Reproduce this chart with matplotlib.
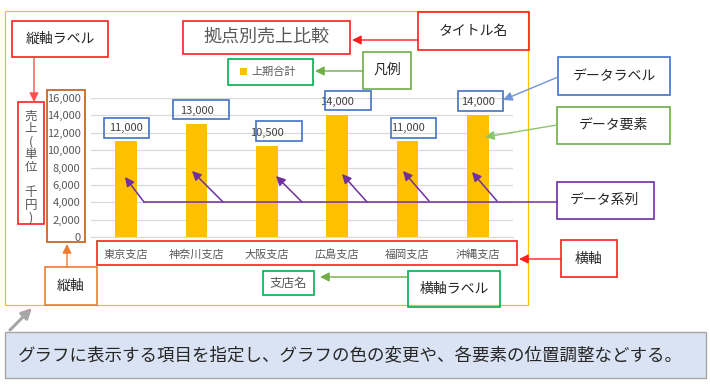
import matplotlib
matplotlib.use("Agg")
import matplotlib.pyplot as plt
from matplotlib.patches import Rectangle
from matplotlib.ticker import FuncFormatter

plt.rcParams['font.family'] = ['Noto Sans CJK JP', 'DejaVu Sans']

# data
stores = ["東京支店", "神奈川支店", "大阪支店", "広島支店", "福岡支店", "沖縄支店"]
sales = [11000, 13000, 10500, 14000, 11000, 14000]
series_name = "上期合計"
title = "拠点別売上比較"
x_label = "支店名"
y_label = list("売上(単位　千円)")
y_ticks = list(range(0, 16001, 2000))
note = "グラフに表示する項目を指定し、グラフの色の変更や、各要素の位置調整などする。"

W, H = 710, 384
fig = plt.figure(figsize=(W / 100, H / 100), dpi=100)

GRAY = "#595959"
GOLD = "#FFC000"
RED = "#FF1F1F"
GREEN = "#00B050"
LGREEN = "#70AD47"
BLUE = "#4472C4"
PURPLE = "#7030A0"
ORANGE = "#ED7D31"
BROWN = "#C55A11"


def px(x0, y0, x1, y1):
    return [x0 / W, 1 - y1 / H, (x1 - x0) / W, (y1 - y0) / H]


# chart plot area
ax = fig.add_axes(px(91, 98, 513, 237))
bars = ax.bar(range(len(stores)), sales, width=0.31, color=GOLD, label=series_name, zorder=2)
ax.set_xlim(-0.5, len(stores) - 0.5)
ax.set_ylim(0, 16000)
ax.set_yticks(y_ticks)
ax.yaxis.set_major_formatter(FuncFormatter(lambda v, p: f"{int(v):,}"))
ax.set_xticks(range(len(stores)))
ax.set_xticklabels(stores)
ax.tick_params(axis='y', length=0, pad=7.5, labelsize=8, labelcolor=GRAY)
ax.tick_params(axis='x', length=0, pad=9, labelsize=8, labelcolor=GRAY)
ax.grid(axis='y', color="#D9D9D9", linewidth=0.9, zorder=0)
for s in ["top", "right", "left"]:
    ax.spines[s].set_visible(False)
ax.spines["bottom"].set_color("#D9D9D9")

# data labels
for i, v in enumerate(sales):
    ax.annotate(f"{v:,}", (i, v), xytext=(0, 13), textcoords="offset pixels",
                ha="center", va="center", fontsize=8, color="#404040")

fig.legend(handles=[bars], labels=[series_name], loc="center",
           bbox_to_anchor=(268 / W, 1 - 72 / H), frameon=False, fontsize=8,
           handlelength=0.6, handleheight=0.6, handletextpad=0.4,
           labelcolor=GRAY)

# overlay for callouts, in pixels from top-left
ov = fig.add_axes([0, 0, 1, 1], zorder=5)
ov.set_xlim(0, W)
ov.set_ylim(H, 0)
ov.axis("off")
ov.patch.set_alpha(0)


def box(x0, y0, x1, y1, ec, lw=1.2, fc="none"):
    ov.add_patch(Rectangle((x0, y0), x1 - x0, y1 - y0, fill=fc != "none",
                           facecolor=fc, edgecolor=ec, linewidth=lw))


def arrow(x0, y0, x1, y1, c, lw=1.0, scale=9):
    ov.annotate("", xy=(x1, y1), xytext=(x0, y0),
                arrowprops=dict(arrowstyle="-|>,head_length=0.6,head_width=0.3",
                                color=c, lw=lw, mutation_scale=scale,
                                shrinkA=0, shrinkB=0))


def label(x, y, s, size=10, color="#262626"):
    ov.text(x, y, s, ha="center", va="center", fontsize=size, color=color)


# chart border
box(5, 11, 528, 305, GOLD, lw=0.9)

# title
label(267, 37, title, size=13, color=GRAY)
box(183, 21, 350, 54, RED)

# axis label texts
for k, ch in enumerate(y_label):
    ov.text(31, 116 + k * 12.8, ch, ha="center", va="center", fontsize=9, color=GRAY)
box(18, 102, 44, 224, RED)
label(288, 283, x_label, size=9, color=GRAY)
box(263, 271, 314, 295, GREEN)

# legend / axes boxes
box(228, 59, 313, 85, GREEN)
box(47, 90, 85, 242, BROWN)
box(97, 241, 517, 265, RED)

# data label boxes
for b in [(104, 118, 149, 138), (173, 100, 229, 119), (256, 121, 302, 141),
          (325, 91, 371, 110), (391, 118, 436, 138), (458, 91, 503, 111)]:
    box(*b, BLUE)

# callouts
box(12, 21, 108, 57, RED); label(60, 39, "縦軸ラベル")
arrow(34, 57, 34, 102, "#FF5050")
box(418, 12, 529, 50, RED); label(473, 31, "タイトル名")
arrow(418, 40, 352, 40, RED)
box(363, 52, 411, 89, LGREEN); label(387, 70, "凡例")
arrow(363, 71, 315, 71, LGREEN)
box(558, 57, 670, 95, BLUE); label(614, 76, "データラベル")
arrow(558, 77, 503, 100, "#6F94D8")
box(557, 107, 670, 144, LGREEN); label(614, 125, "データ要素")
arrow(557, 125, 485, 137, "#8CC56A")
box(557, 182, 654, 219, PURPLE); label(605, 200, "データ系列")
box(561, 240, 617, 277, RED); label(589, 259, "横軸")
arrow(561, 259, 519, 259, RED)
box(408, 271, 500, 307, GREEN); label(454, 289, "横軸ラベル")
arrow(408, 277, 320, 277, LGREEN)
box(45, 267, 97, 305, ORANGE); label(71, 286, "縦軸")
arrow(67, 267, 67, 244, ORANGE)

# data series pointer
ov.plot([144, 557], [202, 202], color=PURPLE, lw=1.1)
for t, h in [((144, 202), (125, 177)), ((223, 202), (192, 171)),
             ((302, 202), (276, 176)), ((367, 202), (342, 174)),
             ((429, 201), (403, 171)), ((497, 201), (472, 172))]:
    arrow(t[0], t[1], h[0], h[1], PURPLE, lw=1.1)

# note
arrow(10, 330, 32, 308, "#A6A6A6", lw=2.2, scale=10)
box(5, 332, 706, 378, "#A6A6A6", lw=1.0, fc="#DAE3F3")
label(350, 355, note, size=12.6, color="#262626")

fig.savefig("out.png", dpi=100)
